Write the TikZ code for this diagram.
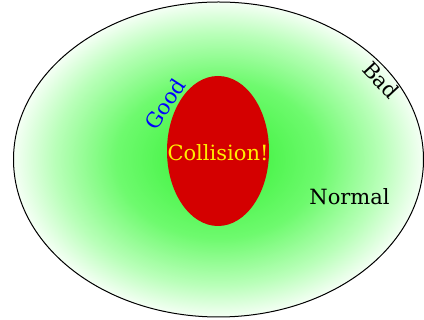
\documentclass[tikz,border=0pt]{standalone}
\usepackage{fontspec}
\setmainfont{DejaVu Serif}
\definecolor{cgreen}{RGB}{50,240,50}
\definecolor{cmid}{RGB}{110,250,110}
\definecolor{clight}{RGB}{185,255,185}
\definecolor{cedge}{RGB}{245,255,245}
\definecolor{cred}{RGB}{212,0,0}
\definecolor{cyellow}{RGB}{255,238,0}
\definecolor{cblue}{RGB}{0,0,255}
\pgfdeclareradialshading{field}{\pgfpoint{0bp}{0bp}}{color(0bp)=(cgreen); color(12.5bp)=(cmid); color(20bp)=(clight); color(25bp)=(cedge); color(50bp)=(cedge)}
\begin{document}
\begin{tikzpicture}[x=1pt,y=1pt,
  lbl/.style={font=\fontsize{21}{24}\selectfont, inner sep=0pt}]
\useasboundingbox (0,0) rectangle (424,320);
\shade[shading=field] (218.5,160.5) ellipse [x radius=205, y radius=157.5];
\draw[line width=1pt] (218.5,160.5) ellipse [x radius=205, y radius=157.5];
\fill[cred] (218,169) ellipse [x radius=51, y radius=75];
\node[lbl, text=cyellow] (coll) at (218,167) {Collision!};
\node[lbl] (normal) at (349.5,123) {Normal};
\node[lbl, text=cblue, rotate=57] (good) at (165,216) {Good};
\node[lbl, rotate=-47] (bad) at (381,240) {Bad};
\end{tikzpicture}
\end{document}
